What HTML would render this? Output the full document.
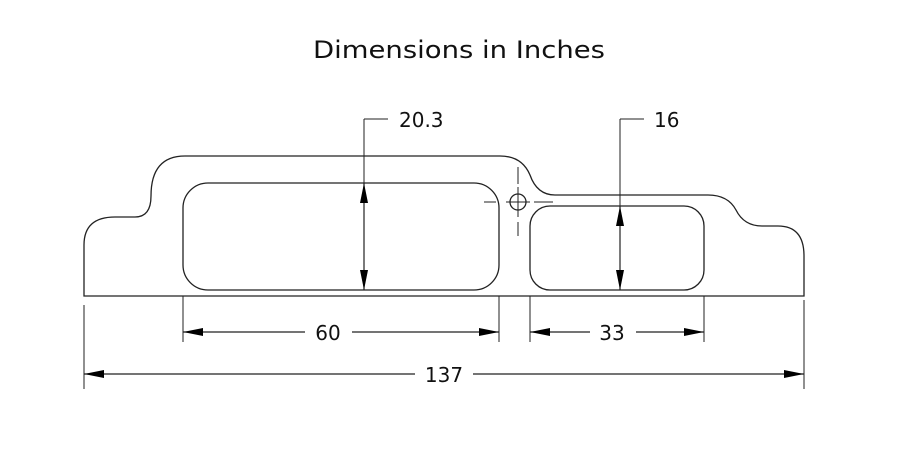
<!DOCTYPE html>
<html><head><style>html,body{margin:0;padding:0;background:#fff}svg{display:block}</style></head>
<body>
<svg width="897" height="468" viewBox="0 0 897 468" xmlns="http://www.w3.org/2000/svg" font-family="'DejaVu Sans', 'Liberation Sans', sans-serif">
<defs>
<marker id="a" viewBox="0 0 20 8" refX="20" refY="4" markerWidth="20" markerHeight="8" markerUnits="userSpaceOnUse" orient="auto-start-reverse"><path d="M0,0L20,4L0,8z" fill="#000"/></marker>
</defs>
<text x="459" y="58" text-anchor="middle" font-size="24" textLength="292" lengthAdjust="spacingAndGlyphs" fill="#111">Dimensions in Inches</text>
<g fill="none" stroke="#222" stroke-width="1.3">
<path d="M84,296 L84,245 Q84,217 115,217 L135,217 Q151,217 151,196 Q151,156 185,156 L500,156 Q522,156 530,175 Q537,195 555,195 L708,195 Q728,195 736,210 Q744,226 762,226 L778,226 Q804,226 804,256 L804,296 Z"/>
<rect x="183" y="183" width="316" height="107" rx="25"/>
<rect x="530" y="206" width="174" height="84" rx="20"/>
<circle cx="518" cy="202" r="8"/>
</g>
<g stroke="#222" stroke-width="1">
<line x1="518" y1="167" x2="518" y2="184"/><line x1="518" y1="187" x2="518" y2="217"/><line x1="518" y1="222" x2="518" y2="236"/>
<line x1="484" y1="202" x2="496" y2="202"/><line x1="506" y1="202" x2="530" y2="202"/><line x1="534" y1="202" x2="553" y2="202"/>
<line x1="183" y1="296" x2="183" y2="342"/><line x1="499" y1="296" x2="499" y2="342"/>
<line x1="530" y1="296" x2="530" y2="342"/><line x1="704" y1="296" x2="704" y2="342"/>
<line x1="84" y1="305" x2="84" y2="389"/><line x1="804" y1="300" x2="804" y2="389"/>
<line x1="364" y1="119" x2="364" y2="183"/><line x1="364" y1="119" x2="388" y2="119"/>
<line x1="620" y1="119" x2="620" y2="206"/><line x1="620" y1="119" x2="644" y2="119"/>
</g>
<g stroke="#222" stroke-width="1.2" fill="none">
<line x1="364" y1="183" x2="364" y2="290" marker-start="url(#a)" marker-end="url(#a)"/>
<line x1="620" y1="206" x2="620" y2="290" marker-start="url(#a)" marker-end="url(#a)"/>
<line x1="183" y1="332" x2="305" y2="332" marker-start="url(#a)"/>
<line x1="352" y1="332" x2="499" y2="332" marker-end="url(#a)"/>
<line x1="530" y1="332" x2="590" y2="332" marker-start="url(#a)"/>
<line x1="636" y1="332" x2="704" y2="332" marker-end="url(#a)"/>
<line x1="84" y1="374" x2="415" y2="374" marker-start="url(#a)"/>
<line x1="473" y1="374" x2="804" y2="374" marker-end="url(#a)"/>
</g>
<g font-size="20" fill="#111">
<text x="399" y="127">20.3</text>
<text x="654" y="127">16</text>
<text x="328" y="340" text-anchor="middle">60</text>
<text x="612" y="340" text-anchor="middle">33</text>
<text x="444" y="382" text-anchor="middle">137</text>
</g>
</svg>
</body></html>
